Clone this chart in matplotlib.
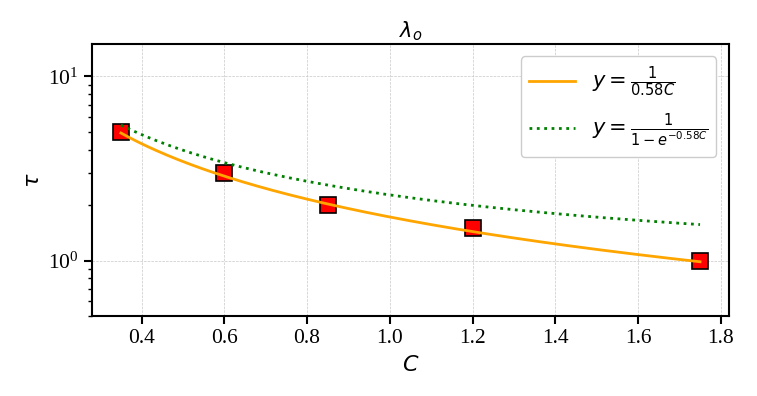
import numpy as np
import matplotlib
matplotlib.use("Agg")
import matplotlib.pyplot as plt

# measured points
C_pts = [0.35, 0.6, 0.85, 1.2, 1.75]
tau_pts = [5.0, 3.0, 2.0, 1.5, 1.0]

# fitted curves from the legend formulas
k = 0.58
C_fit = np.linspace(0.35, 1.75, 200)
tau_inv = 1 / (k * C_fit)
tau_exp = 1 / (1 - np.exp(-k * C_fit))

fig = plt.figure(figsize=(7.57, 3.96), dpi=100)
ax = fig.add_axes([0.1215, 0.202, 0.8415, 0.687])

ax.plot(C_pts, tau_pts, 's', color='red', markeredgecolor='black',
        markersize=11, markeredgewidth=1.2, zorder=2)
ax.plot(C_fit, tau_inv, '-', color='orange', linewidth=2,
        label=r'$y=\frac{1}{0.58C}$', zorder=3)
ax.plot(C_fit, tau_exp, ':', color='green', linewidth=2,
        label=r'$y=\frac{1}{1-e^{-0.58C}}$', zorder=3)

ax.set_yscale('log')
ax.set_ylim(0.5, 15)
ax.grid(True, which='major', linestyle='--', linewidth=0.5, color='#c8c8c8')

ax.set_title(r'$\lambda_o$', fontsize=15, pad=5)
ax.set_xlabel(r'$C$', fontsize=16, labelpad=5)
ax.set_ylabel(r'$\tau$', fontsize=16)

for s in ax.spines.values():
    s.set_linewidth(1.5)
ax.tick_params(which='major', length=6, width=1.5)
ax.tick_params(which='minor', length=3, width=1)
for lab in ax.get_xticklabels() + ax.get_yticklabels():
    lab.set_fontfamily('Liberation Serif')
    lab.set_fontsize(15.5)

ax.legend(loc='upper right', fontsize=15, framealpha=1, edgecolor='#cccccc',
          handlelength=2.2, borderaxespad=0.6, labelspacing=0.6)

fig.savefig('out.png', dpi=100)
